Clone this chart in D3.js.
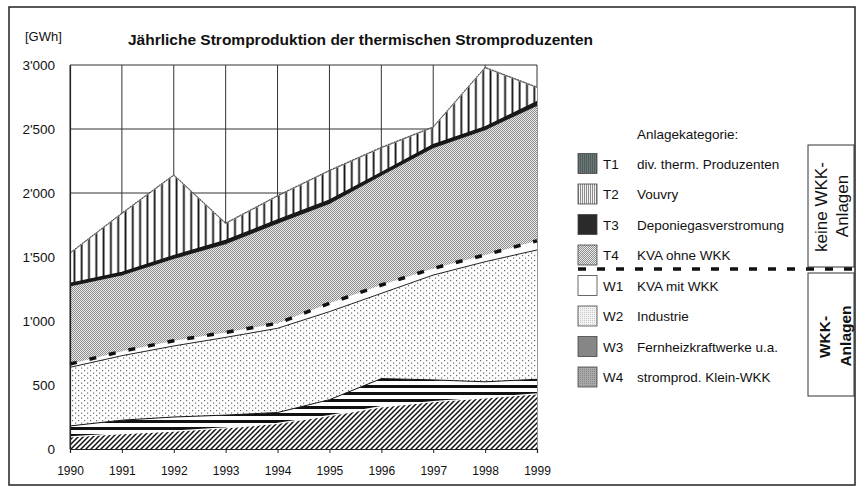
<!DOCTYPE html>
<html><head><meta charset="utf-8">
<script src="https://cdn.jsdelivr.net/npm/d3@7"></script>
<style>body{margin:0;background:#fff}svg{display:block;font-family:"Liberation Sans",Arial,sans-serif}</style>
</head><body><svg id="c" width="861" height="495"></svg>
<script>
// ---- data ----
const years = [1990,1991,1992,1993,1994,1995,1996,1997,1998,1999];
const W4 = [95,120,140,165,200,260,330,370,400,430];      // stromprod. Klein-WKK
const W3 = [85,105,110,100,85,125,220,170,125,115];       // Fernheizkraftwerke u.a.
const W2 = [458,504,555,607,658,688,666,819,938,1010];    // Industrie
const W1 = [26,34,41,39,39,65,65,52,53,72];               // KVA mit WKK
const T4 = [606,592,639,689,778,777,854,939,974,1053];    // KVA ohne WKK
const T3 = [25,25,27,30,30,30,25,28,28,35];               // Deponiegasverstromung
const T2 = [230,456,623,128,182,225,190,132,457,105];     // Vouvry
const T1 = [8,8,8,8,8,8,8,8,8,8];                         // div. therm. Produzenten
const yTicks = [0,500,1000,1500,2000,2500,3000];
const yTickLabels = ["0","500","1'000","1'500","2'000","2'500","3'000"];
const legendCodes = ["T1","T2","T3","T4","W1","W2","W3","W4"];
const legendNames = ["div. therm. Produzenten","Vouvry","Deponiegasverstromung","KVA ohne WKK","KVA mit WKK","Industrie","Fernheizkraftwerke u.a.","stromprod. Klein-WKK"];
const stackKeys = ["W4","W3","W2","W1","T4","T3","T2","T1"];
const series = {W4,W3,W2,W1,T4,T3,T2,T1};

const rows = years.map((yr,i)=>{const r={year:yr}; stackKeys.forEach(k=>r[k]=series[k][i]); return r;});

const svg = d3.select("#c");
const defs = svg.append("defs");
function pat(id,w,h,bg,draw){
  const p = defs.append("pattern").attr("id",id).attr("patternUnits","userSpaceOnUse")
    .attr("width",w).attr("height",h);
  p.append("rect").attr("width",w).attr("height",h).attr("fill",bg);
  draw(p);
}
// chart patterns
pat("pT1",2,2,"#6a7776",p=>{p.append("rect").attr("width",1).attr("height",1).attr("fill","#3a4646");});
pat("pT2",7.3,10,"#fff",p=>{p.append("rect").attr("x",0.5).attr("width",1.8).attr("height",10).attr("fill","#111");});
pat("pT4",2,2,"#e8e8e8",p=>{p.append("rect").attr("width",1).attr("height",1).attr("fill","#8f8f8f");p.append("rect").attr("x",1).attr("y",1).attr("width",1).attr("height",1).attr("fill","#8f8f8f");});
pat("pW2",6,5,"#fff",p=>{p.append("rect").attr("x",0).attr("y",0).attr("width",1.2).attr("height",1.2).attr("fill","#666");p.append("rect").attr("x",3).attr("y",2.5).attr("width",1.2).attr("height",1.2).attr("fill","#666");});
pat("pW3",10,7,"#fff",p=>{p.append("rect").attr("y",0).attr("width",10).attr("height",3).attr("fill","#111");});
pat("pW4",5,5,"#fff",p=>{p.append("path").attr("d","M-1,1 l2,-2 M0,5 l5,-5 M4,6 l2,-2").attr("stroke","#111").attr("stroke-width",1.5);});
// legend swatch patterns
pat("sT2",2,2,"#f4f4f4",p=>{p.append("rect").attr("width",1).attr("height",2).attr("fill","#8c8c8c");});
pat("sW2",2,2,"#f3f3f3",p=>{p.append("rect").attr("width",1).attr("height",1).attr("fill","#c8c8c8");});
pat("sW3",2,2,"#d8d8d8",p=>{p.append("rect").attr("width",2).attr("height",1).attr("fill","#333");});
pat("sW4",2,2,"#a8a8a8",p=>{p.append("rect").attr("width",1).attr("height",1).attr("fill","#888");});

const fills = {T1:"url(#pT1)",T2:"url(#pT2)",T3:"#1a1a1a",T4:"url(#pT4)",W1:"#fff",W2:"url(#pW2)",W3:"url(#pW3)",W4:"url(#pW4)"};
const swatch = {T1:"url(#pT1)",T2:"url(#sT2)",T3:"#2a2a2a",T4:"url(#pT4)",W1:"#fff",W2:"url(#sW2)",W3:"url(#sW3)",W4:"url(#sW4)"};

// outer frame
svg.append("rect").attr("x",9).attr("y",7).attr("width",846).attr("height",478)
  .attr("fill","none").attr("stroke","#222").attr("stroke-width",1.5);

const x = d3.scaleLinear().domain([1990,1999]).range([70,537]);
const y = d3.scaleLinear().domain([0,3000]).range([449,65]);

// grid
const g = svg.append("g");
g.selectAll("line.v").data(years).join("line").attr("x1",d=>x(d)).attr("x2",d=>x(d))
  .attr("y1",y(0)).attr("y2",y(3000)).attr("stroke","#333").attr("stroke-width",1);
g.selectAll("line.h").data(yTicks).join("line").attr("class","h").attr("x1",x(1990)).attr("x2",x(1999))
  .attr("y1",d=>y(d)).attr("y2",d=>y(d)).attr("stroke","#333").attr("stroke-width",1);

// stacked areas
const stacked = d3.stack().keys(stackKeys)(rows);
const area = d3.area().x(d=>x(d.data.year)).y0(d=>y(d[0])).y1(d=>y(d[1]));
const topLine = d3.line().x(d=>x(d.data.year)).y(d=>y(d[1]));
svg.append("g").selectAll("path").data(stacked).join("path")
  .attr("d",area).attr("fill",d=>fills[d.key]).attr("stroke","none");

const L = {}; stacked.forEach(s=>L[s.key]=s);
svg.append("path").attr("d",topLine(L.W4)).attr("fill","none").attr("stroke","#fff").attr("stroke-width",1.3);
svg.append("path").attr("d",topLine(L.W3)).attr("fill","none").attr("stroke","#111").attr("stroke-width",1);
svg.append("path").attr("d",topLine(L.W2)).attr("fill","none").attr("stroke","#222").attr("stroke-width",1);
svg.append("path").attr("d",topLine(L.W1)).attr("fill","none").attr("stroke","#111").attr("stroke-width",3.5).attr("stroke-dasharray","7,13");
svg.append("path").attr("d",topLine(L.T3)).attr("fill","none").attr("stroke","#111").attr("stroke-width",1.2);
svg.append("path").attr("d",topLine(L.T1)).attr("fill","none").attr("stroke","#555").attr("stroke-width",1).attr("stroke-dasharray","2,1");

// axes
const xa = svg.append("g").attr("transform",`translate(0,${y(0)})`)
  .call(d3.axisBottom(x).tickValues(years).tickFormat(d=>String(d)).tickSize(4).tickPadding(13));
xa.select(".domain").attr("stroke","#222").attr("stroke-width",1.2);
xa.selectAll(".tick line").attr("stroke","#222");
xa.selectAll("text").attr("font-size",12).attr("fill","#111").attr("font-family","Liberation Sans, Arial, sans-serif");
const ya = svg.append("g").attr("transform",`translate(${x(1990)},0)`)
  .call(d3.axisLeft(y).tickValues(yTicks).tickFormat((d,i)=>yTickLabels[i]).tickSize(0).tickPadding(15));
ya.select(".domain").attr("stroke","#222").attr("stroke-width",1.2);
ya.selectAll("text").attr("font-size",13.5).attr("fill","#111").attr("font-family","Liberation Sans, Arial, sans-serif");

// titles
svg.append("text").attr("x",25).attr("y",41).attr("font-size",13).attr("fill","#111").text("[GWh]");
svg.append("text").attr("x",128).attr("y",45).attr("font-size",15.5).attr("font-weight","bold").attr("fill","#111")
  .text("Jährliche Stromproduktion der thermischen Stromproduzenten");

// legend
svg.append("text").attr("x",637).attr("y",139).attr("font-size",13.5).attr("fill","#111").text("Anlagekategorie:");
const rowY = legendCodes.map((c,i)=>163.5+30.5*i);
const lg = svg.append("g").selectAll("g").data(legendCodes).join("g")
  .attr("transform",(d,i)=>`translate(0,${rowY[i]})`);
lg.append("rect").attr("x",578).attr("y",-10).attr("width",19).attr("height",20)
  .attr("fill",d=>swatch[d]).attr("stroke","#444").attr("stroke-width",0.8);
lg.append("text").attr("x",603).attr("y",5).attr("font-size",13.5).attr("fill","#111").text(d=>d);
lg.append("text").attr("x",637).attr("y",5).attr("font-size",13.5).attr("fill","#111").text((d,i)=>legendNames[i]);

// group boxes
svg.append("rect").attr("x",808).attr("y",145).attr("width",46).attr("height",122).attr("fill","#fff").attr("stroke","#333").attr("stroke-width",1);
svg.append("rect").attr("x",808).attr("y",273).attr("width",46).attr("height",123).attr("fill","#fff").attr("stroke","#333").attr("stroke-width",1);
svg.append("line").attr("x1",578).attr("x2",856).attr("y1",269).attr("y2",269)
  .attr("stroke","#111").attr("stroke-width",3.5).attr("stroke-dasharray","8,11");
function rot(xp,yp,txt,size,weight){
  svg.append("text").attr("transform",`translate(${xp},${yp}) rotate(-90)`).attr("text-anchor","middle")
    .attr("font-size",size).attr("font-weight",weight).attr("fill","#111").text(txt);
}
rot(827,207,"keine WKK-",17,"normal");
rot(848,206,"Anlagen",17,"normal");
rot(830,337,"WKK-",15.5,"bold");
rot(851,336,"Anlagen",15.5,"bold");
</script></body></html>
